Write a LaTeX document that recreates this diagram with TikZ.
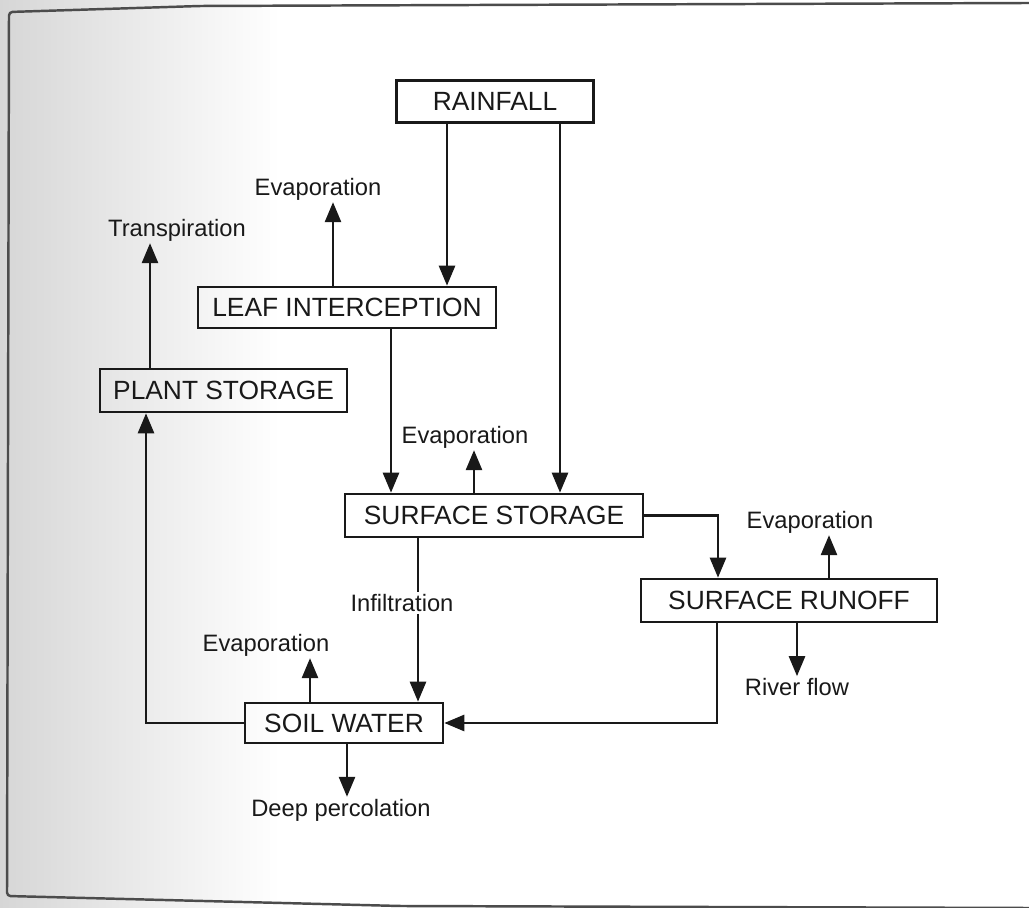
\documentclass[tikz,border=0pt]{standalone}
\usepackage{fontspec}
\setmainfont{Liberation Sans}
\usetikzlibrary{arrows.meta}

\begin{document}
\begin{tikzpicture}[x={(0.02cm,0cm)},y={(0cm,-0.02cm)},
    every node/.style={text=black!90},
    box/.style={draw=black!90,line width=1.5pt,inner sep=0pt,
        font=\fontsize{15}{17}\selectfont,minimum height=0.84cm},
    lbl/.style={font=\fontsize{13.5}{15}\selectfont,inner sep=1pt},
    arr/.style={draw=black!90,line width=1.5pt,-{Triangle[length=0.4cm,width=0.32cm]}},
    link/.style={draw=black!90,line width=1.5pt}]
    \useasboundingbox (0,0) rectangle (1029,908);

    % scanned page: shading and edge
    \fill[white] (0,0) rectangle (1029,908);
    \shade[left color=black!16,right color=white] (0,0) rectangle (280,908);
    \draw[black!70,line width=1.4pt,rounded corners=2pt]
        (1029,3) -- (200,6) -- (9,12) -- (7,896) -- (400,906) -- (1029,908);

    % boxes
    \node[box,minimum width=3.94cm] (rain) at (495,101.5) {RAINFALL};
    \node[box,minimum width=5.96cm,minimum height=0.82cm] (leaf) at (347,307.5) {LEAF INTERCEPTION};
    \node[box,minimum width=4.94cm,minimum height=0.86cm] (plant) at (223.5,390.5) {PLANT STORAGE};
    \node[box,minimum width=5.96cm,minimum height=0.86cm] (sstore) at (494,515.5) {SURFACE STORAGE};
    \node[box,minimum width=5.92cm,minimum height=0.86cm] (runoff) at (789,600.5) {SURFACE RUNOFF};
    \node[box,minimum width=3.96cm,minimum height=0.80cm] (soil) at (344,723) {SOIL WATER};

    % labels
    \node[lbl] (evLeaf) at (318,189) {Evaporation};
    \node[lbl] (trans) at (177,230) {Transpiration};
    \node[lbl] (evSS) at (465,437) {Evaporation};
    \node[lbl] (evRun) at (810,522) {Evaporation};
    \node[lbl] (infil) at (402,603) {Infiltration};
    \node[lbl] (evSoil) at (266,645) {Evaporation};
    \node[lbl] (river) at (797,687) {River flow};
    \node[lbl] (deep) at (341,810) {Deep percolation};

    % columns of the arrows
    \coordinate (cRL) at (447,0);
    \coordinate (cRS) at (560,0);
    \coordinate (cLS) at (391,0);
    \coordinate (cEL) at (333,0);
    \coordinate (cTP) at (150,0);
    \coordinate (cES) at (474,0);
    \coordinate (cER) at (829,0);
    \coordinate (cSR) at (718,0);
    \coordinate (cIN) at (418,0);
    \coordinate (cRW) at (717,0);
    \coordinate (cRF) at (797,0);
    \coordinate (cSE) at (310,0);
    \coordinate (cDP) at (347,0);
    \coordinate (cPL) at (146,0);

    % rainfall
    \draw[arr] (rain.south -| cRL) -- (leaf.north -| cRL);
    \draw[arr] (rain.south -| cRS) -- (sstore.north -| cRS);

    % leaf and plant
    \draw[arr] (leaf.north -| cEL) -- (evLeaf.south -| cEL);
    \draw[arr] (leaf.south -| cLS) -- (sstore.north -| cLS);
    \draw[arr] (plant.north -| cTP) -- (trans.south -| cTP);

    % surface storage
    \draw[arr] (sstore.north -| cES) -- (evSS.south -| cES);
    \draw[arr] (sstore.east) -| (runoff.north -| cSR);
    \draw[link] (sstore.south -| cIN) -- (infil.north -| cIN);
    \draw[arr] (infil.south -| cIN) -- (soil.north -| cIN);

    % surface runoff
    \draw[arr] (runoff.north -| cER) -- (evRun.south -| cER);
    \draw[arr] (runoff.south -| cRF) -- (river.north -| cRF);
    \draw[arr] (runoff.south -| cRW) |- (soil.east);

    % soil water
    \draw[arr] (soil.north -| cSE) -- (evSoil.south -| cSE);
    \draw[arr] (soil.south -| cDP) -- (deep.north -| cDP);
    \draw[arr] (soil.west) -| (plant.south -| cPL);

\end{tikzpicture}
\end{document}
